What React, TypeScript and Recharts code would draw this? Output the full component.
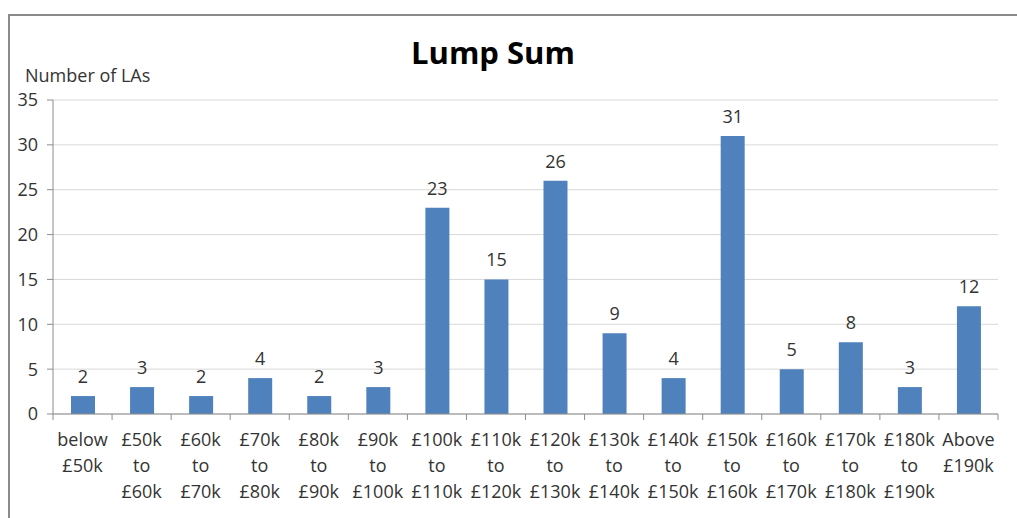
import React from "react";
import { Bar, BarChart, CartesianGrid, LabelList, XAxis, YAxis } from "recharts";

const bands = [
  "below\n£50k",
  "£50k\nto\n£60k",
  "£60k\nto\n£70k",
  "£70k\nto\n£80k",
  "£80k\nto\n£90k",
  "£90k\nto\n£100k",
  "£100k\nto\n£110k",
  "£110k\nto\n£120k",
  "£120k\nto\n£130k",
  "£130k\nto\n£140k",
  "£140k\nto\n£150k",
  "£150k\nto\n£160k",
  "£160k\nto\n£170k",
  "£170k\nto\n£180k",
  "£180k\nto\n£190k",
  "Above\n£190k",
];
const counts = [2, 3, 2, 4, 2, 3, 23, 15, 26, 9, 4, 31, 5, 8, 3, 12];
const yTicks = [0, 5, 10, 15, 20, 25, 30, 35];

const data = bands.map((name, i) => ({ name, value: counts[i] }));

const FONT = "'Open Sans', sans-serif";
const TEXT = "#333333";
const AXIS = "#8c8c8c";

const W = 1005;
const H = 500;
const M = { top: 84, right: 17, left: 0, bottom: 0 };
const Y_W = 43;
const band = (W - M.left - M.right - Y_W) / bands.length;

// category labels on several lines, tick marks on the band edges
const BandTick = (props: any) => {
  const { x, y, payload, index } = props;
  const lines = String(payload.value).split("\n");
  return (
    <g>
      <line x1={x - band / 2} x2={x - band / 2} y1={y} y2={y + 6} stroke={AXIS} />
      {index === bands.length - 1 && (
        <line x1={x + band / 2} x2={x + band / 2} y1={y} y2={y + 6} stroke={AXIS} />
      )}
      <text textAnchor="middle" fontFamily={FONT} fontSize={18} fill={TEXT}>
        {lines.map((l, i) => (
          <tspan key={i} x={x} y={y + 32 + i * 26}>
            {l}
          </tspan>
        ))}
      </text>
    </g>
  );
};

export default function App() {
  return (
    <div
      style={{
        position: "absolute",
        left: 8,
        top: 14,
        width: 1009,
        height: 504,
        borderLeft: "2px solid #8a8a8a",
        borderTop: "2px solid #8a8a8a",
        background: "#fff",
      }}
    >
      <svg
        width={W}
        height={90}
        style={{ position: "absolute", left: 0, top: 0 }}
      >
        <text
          x={483}
          y={48}
          textAnchor="middle"
          fontFamily={FONT}
          fontWeight="bold"
          fontSize={31}
          fill="#000"
        >
          Lump Sum
        </text>
        <text x={15} y={66} fontFamily={FONT} fontSize={18} fill={TEXT}>
          Number of LAs
        </text>
      </svg>
      <div style={{ position: "absolute", left: 0, top: 0 }}>
        <BarChart width={W} height={H} data={data} margin={M} barSize={24}>
          <CartesianGrid vertical={false} stroke="#d9d9d9" />
          <XAxis
            dataKey="name"
            interval={0}
            tickLine={false}
            tickSize={0}
            tickMargin={0}
            height={H - 398 - M.bottom}
            axisLine={{ stroke: AXIS }}
            tick={<BandTick />}
          />
          <YAxis
            width={Y_W}
            domain={[0, 35]}
            ticks={yTicks}
            interval={0}
            tickSize={6}
            tickMargin={9}
            axisLine={{ stroke: AXIS }}
            tickLine={{ stroke: AXIS }}
            tick={{ fontFamily: FONT, fontSize: 18, fill: TEXT }}
          />
          <Bar dataKey="value" fill="#4f81bd" isAnimationActive={false}>
            <LabelList
              dataKey="value"
              position="top"
              offset={13}
              fontFamily={FONT}
              fontSize={18}
              fill={TEXT}
            />
          </Bar>
        </BarChart>
      </div>
    </div>
  );
}
